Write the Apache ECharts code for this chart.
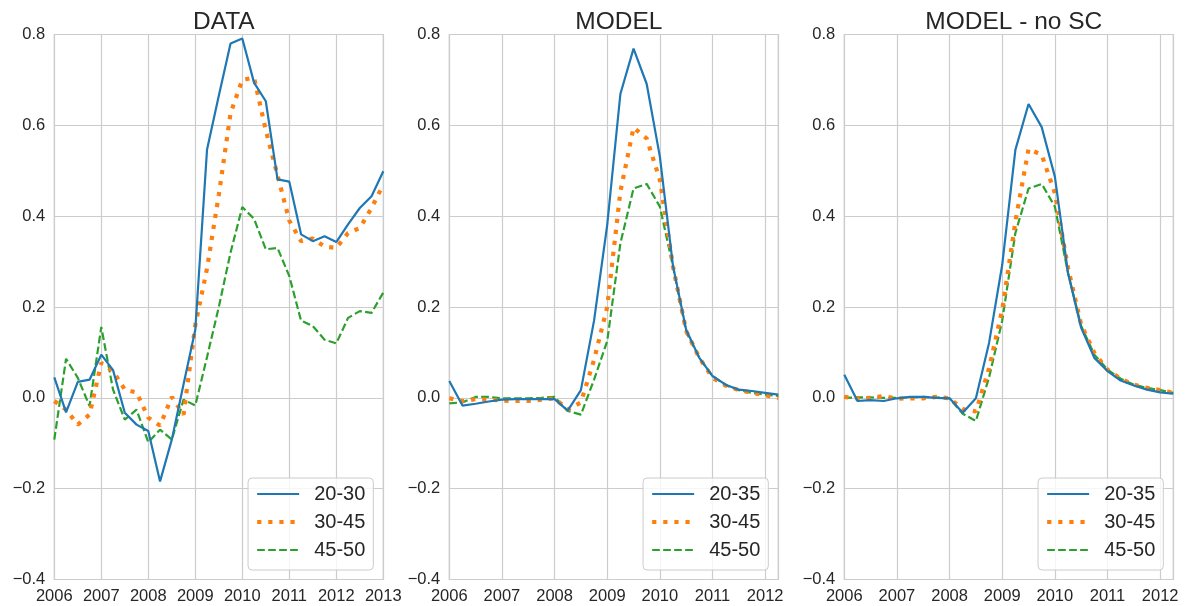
<!DOCTYPE html>
<html>
<head>
<meta charset="utf-8">
<script src="https://cdn.jsdelivr.net/npm/echarts@6/dist/echarts.min.js"></script>
<style>
html,body{margin:0;padding:0;background:#fff;}
#chart{width:1187px;height:606px;}
</style>
</head>
<body>
<div id="chart"></div>
<script>
// ---- data ----
const timeData = [2006,2006.25,2006.5,2006.75,2007,2007.25,2007.5,2007.75,2008,2008.25,2008.5,2008.75,2009,2009.25,2009.5,2009.75,2010,2010.25,2010.5,2010.75,2011,2011.25,2011.5,2011.75,2012,2012.25,2012.5,2012.75,2013];
const timeModel = [2006,2006.25,2006.5,2006.75,2007,2007.25,2007.5,2007.75,2008,2008.25,2008.5,2008.75,2009,2009.25,2009.5,2009.75,2010,2010.25,2010.5,2010.75,2011,2011.25,2011.5,2011.75,2012,2012.25];

const titles = ['DATA', 'MODEL', 'MODEL - no SC'];
const namesData = ['20-30', '30-45', '45-50'];
const namesModel = ['20-35', '30-45', '45-50'];
const yTicks = [-0.4, -0.2, 0.0, 0.2, 0.4, 0.6, 0.8];

const data_20_30 = [0.045,-0.032,0.035,0.040,0.095,0.061,-0.033,-0.059,-0.073,-0.184,-0.092,0.03,0.15,0.547,0.665,0.780,0.791,0.694,0.653,0.481,0.476,0.360,0.345,0.356,0.343,0.382,0.418,0.444,0.499];
const data_30_45 = [-0.007,-0.026,-0.059,-0.037,0.077,0.059,0.018,0.012,-0.044,-0.061,0.002,-0.037,0.16,0.285,0.447,0.627,0.700,0.705,0.589,0.490,0.390,0.345,0.351,0.333,0.330,0.363,0.374,0.418,0.470];
const data_45_50 = [-0.092,0.086,0.044,-0.018,0.156,0.018,-0.048,-0.026,-0.098,-0.070,-0.092,-0.004,-0.017,0.09,0.20,0.32,0.42,0.394,0.327,0.330,0.268,0.170,0.158,0.128,0.120,0.176,0.191,0.187,0.232];

const model_20_35 = [0.037,-0.017,-0.013,-0.008,-0.004,-0.003,-0.003,-0.003,-0.003,-0.028,0.017,0.17,0.381,0.669,0.769,0.691,0.531,0.29,0.150,0.088,0.048,0.029,0.018,0.015,0.011,0.007];
const model_30_45 = [-0.001,-0.007,-0.003,-0.004,-0.006,-0.007,-0.007,-0.004,-0.001,-0.026,-0.01,0.084,0.2,0.454,0.595,0.571,0.48,0.289,0.147,0.088,0.044,0.027,0.017,0.011,0.006,0.0];
const model_45_50 = [-0.012,-0.010,0.002,0.002,-0.001,-0.001,-0.001,0.0,0.002,-0.029,-0.037,0.04,0.125,0.34,0.461,0.471,0.421,0.289,0.145,0.088,0.048,0.028,0.017,0.011,0.007,0.004];

const nosc_20_35 = [0.051,-0.007,-0.005,-0.007,-0.001,0.002,0.002,0.0,-0.001,-0.033,-0.001,0.121,0.293,0.546,0.647,0.596,0.487,0.275,0.154,0.088,0.059,0.038,0.027,0.018,0.012,0.009];
const nosc_30_45 = [0.002,-0.001,0.0,0.004,-0.002,-0.001,-0.001,0.002,-0.001,-0.025,-0.03,0.065,0.194,0.388,0.548,0.535,0.451,0.286,0.161,0.099,0.062,0.042,0.029,0.022,0.017,0.011];
const nosc_45_50 = [0.0,0.001,0.001,0.0,0.0,0.001,0.002,0.001,-0.001,-0.035,-0.051,0.045,0.17,0.363,0.461,0.471,0.421,0.275,0.158,0.095,0.062,0.042,0.029,0.022,0.017,0.011];

// ---- layout / style ----
const FONT = "'Liberation Sans', Arial, 'DejaVu Sans', sans-serif";
const TXT = '#262626';
const GRIDC = '#cccccc';
const W = 1187, H = 606;
const gridLefts = [54.3, 449.3, 844.3];
const gridW = 329, gridTop = 34.5, gridH = 545;
const xMax = [2013, 2012.25, 2012.25];
const colors = ['#1f77b4', '#ff7f0e', '#2ca02c'];
const lineStyles = [
  {width: 2.2, type: 'solid'},
  {width: 4.2, type: [4.2, 6.9]},
  {width: 2.2, type: [7.7, 3.3]}
];

const panels = [
  {t: timeData, names: namesData, ys: [data_20_30, data_30_45, data_45_50]},
  {t: timeModel, names: namesModel, ys: [model_20_35, model_30_45, model_45_50]},
  {t: timeModel, names: namesModel, ys: [nosc_20_35, nosc_30_45, nosc_45_50]}
];

const fmtY = v => {
  const s = Math.abs(v).toFixed(1);
  return v < -1e-9 ? '\u2212' + s : s;
};

const option = {
  animation: false,
  backgroundColor: '#ffffff',
  textStyle: {fontFamily: FONT},
  title: titles.map((t, i) => ({
    text: t,
    left: gridLefts[i] + gridW / 2,
    top: 5,
    textAlign: 'center',
    textStyle: {fontFamily: FONT, fontSize: 24.5, fontWeight: 'normal', color: TXT}
  })),
  grid: gridLefts.map(l => ({
    left: l, top: gridTop, width: gridW, height: gridH,
    show: true, borderColor: GRIDC, borderWidth: 1.2, backgroundColor: 'transparent',
    containLabel: false
  })),
  xAxis: gridLefts.map((l, i) => ({
    type: 'value', gridIndex: i, min: 2006, max: xMax[i], interval: 1,
    axisLine: {show: false}, axisTick: {show: false},
    splitLine: {show: true, lineStyle: {color: GRIDC, width: 1.2}},
    axisLabel: {
      margin: 8, fontSize: 16.5, color: TXT, fontFamily: FONT,
      formatter: v => (Math.abs(v - Math.round(v)) < 1e-6 ? String(Math.round(v)) : '')
    }
  })),
  yAxis: gridLefts.map((l, i) => ({
    type: 'value', gridIndex: i, min: yTicks[0], max: yTicks[yTicks.length - 1], interval: 0.2,
    axisLine: {show: false}, axisTick: {show: false},
    splitLine: {show: true, lineStyle: {color: GRIDC, width: 1.2}},
    axisLabel: {margin: 9, fontSize: 16.5, color: TXT, fontFamily: FONT, formatter: fmtY}
  })),
  legend: panels.map((p, i) => ({
    orient: 'vertical',
    data: p.names,
    right: W - (gridLefts[i] + gridW - 10),
    bottom: H - (gridTop + gridH - 9.5),
    itemWidth: 42, itemHeight: 14, itemGap: 8,
    padding: [6, 8, 10, 7],
    backgroundColor: 'rgba(255,255,255,0.8)',
    borderColor: GRIDC, borderWidth: 1, borderRadius: 4,
    selectedMode: false,
    itemStyle: {color: 'rgba(0,0,0,0)', borderColor: 'rgba(0,0,0,0)', borderWidth: 0, opacity: 0},
    lineStyle: {width: 'inherit', type: 'inherit'},
    textStyle: {fontSize: 20, color: TXT, fontFamily: FONT, padding: [0, 0, 0, 10]}
  })),
  series: []
};

panels.forEach((p, i) => {
  p.ys.forEach((vals, k) => {
    option.series.push({
      type: 'line',
      name: p.names[k],
      xAxisIndex: i, yAxisIndex: i,
      data: p.t.map((x, j) => [x, vals[j]]),
      showSymbol: false, symbol: 'none',
      color: colors[k],
      lineStyle: Object.assign({color: colors[k], cap: 'butt'}, lineStyles[k]),
      itemStyle: {color: colors[k]},
      z: 3 - k + 2
    });
  });
});

const chart = echarts.init(document.getElementById('chart'), null, {renderer: 'canvas', width: W, height: H});
chart.setOption(option);
</script>
</body>
</html>
